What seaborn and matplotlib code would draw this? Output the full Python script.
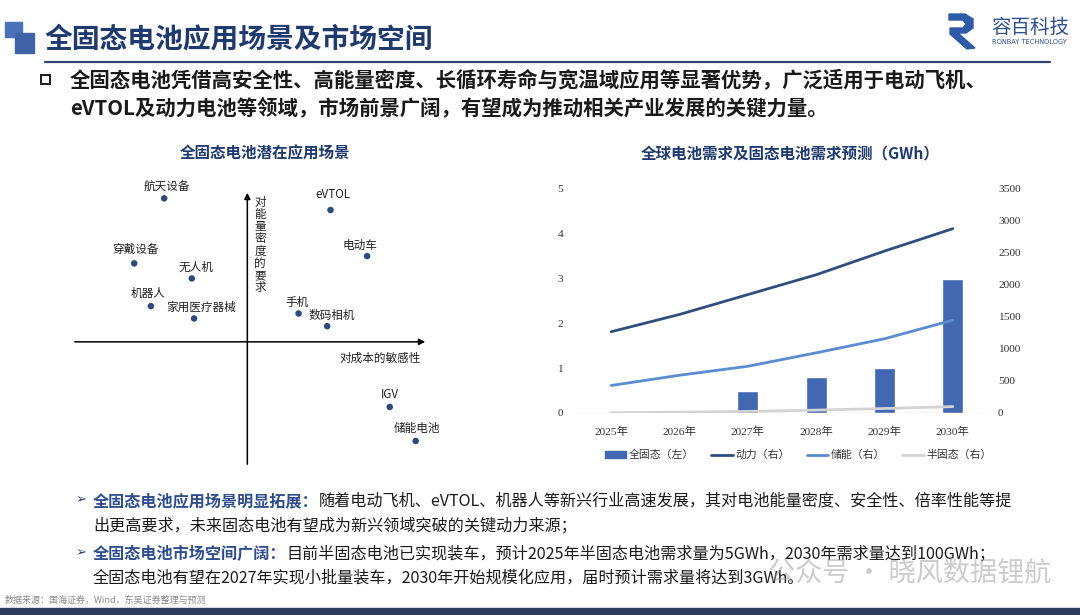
import numpy as np
import matplotlib
matplotlib.use("Agg")
import matplotlib.pyplot as plt
from matplotlib.patches import Rectangle, Polygon, Patch
from matplotlib.lines import Line2D
import seaborn as sns

# ---- data: demand forecast (GWh) ----
years = ["2025年", "2026年", "2027年", "2028年", "2029年", "2030年"]
all_solid = [0, 0, 0.5, 0.8, 1.0, 3.0]            # left axis
power = [1270, 1540, 1850, 2160, 2530, 2880]       # right axis
storage = [430, 590, 730, 940, 1160, 1450]         # right axis
semi_solid = [5, 12, 25, 45, 70, 100]              # right axis

# ---- data: application scenarios ----
scenes = ["航天设备", "穿戴设备", "无人机", "机器人", "家用医疗器械",
          "eVTOL", "电动车", "手机", "数码相机", "IGV", "储能电池"]
cost_sens = [-2.5, -3.4, -1.67, -2.9, -1.6, 2.5, 3.6, 1.54, 2.4, 4.28, 5.06]
energy_req = [4.3, 2.35, 1.9, 1.07, 0.7, 3.95, 2.57, 0.85, 0.47, -1.95, -2.97]
label_offsets = [(2, 8), (1, 10), (3, 8), (-2, 9), (5, 8),
                 (2, 11), (-5, 8), (-1, 8), (3, 8), (0, 9), (1, 9)]

sns.set_theme(style="white")
CJK = ["Noto Sans CJK SC", "DejaVu Sans"]
SERIF = ["Liberation Serif", "Noto Sans CJK SC"]
plt.rcParams["font.family"] = CJK

NAVY = "#1F3A6E"
BAR = "#4168B0"
POWER = "#2F4E7E"
STORE = "#5B8BD0"
SEMI = "#D3D3D3"

fig = plt.figure(figsize=(10.8, 6.15), dpi=100)
fig.patch.set_facecolor("white")

# background layer in pixel coordinates
bg = fig.add_axes([0, 0, 1, 1])
bg.set_xlim(0, 1080)
bg.set_ylim(615, 0)
bg.axis("off")

# header
bg.add_patch(Rectangle((5, 22), 17, 15, color="#4A72B8"))
bg.add_patch(Rectangle((15, 33), 19, 20, color="#3F62A8"))
bg.text(45, 40, "全固态电池应用场景及市场空间", fontsize=20, fontweight="bold",
        color=NAVY, va="center", ha="left")
bg.plot([45, 1050], [62, 62], color="#2E4470", lw=1.6)
bg.add_patch(Polygon([(949, 14), (965, 14), (973, 19), (973, 28), (966, 33),
                      (958, 33), (975, 48), (967, 49), (950, 34), (950, 28),
                      (963, 28), (966, 24), (963, 20), (949, 20)],
                     closed=True, color="#2F5AA8"))
bg.text(1030, 27, "容百科技", fontsize=14, color="#2F4E8E", ha="center", va="center")
bg.text(1029, 42, "RONBAY TECHNOLOGY", fontsize=4.8, color="#2F4E8E",
        ha="center", va="center", family=["DejaVu Sans"])

# intro bullet
bg.add_patch(Rectangle((41, 75), 9, 9, fill=False, edgecolor="#1a1a1a", lw=1.4))
bg.text(70, 80, "全固态电池凭借高安全性、高能量密度、长循环寿命与宽温域应用等显著优势，广泛适用于电动飞机、",
        fontsize=14.7, fontweight="bold", color="#1a1a1a", va="center")
bg.text(70, 108, "eVTOL及动力电池等领域，市场前景广阔，有望成为推动相关产业发展的关键力量。",
        fontsize=14.7, fontweight="bold", color="#1a1a1a", va="center")


def mixed_line(x, y, head, rest, size=11.6):
    t = bg.text(x, y, head, fontsize=size, fontweight="bold", color="#2E4E8E",
                va="bottom", ha="left")
    bg.annotate(rest, xy=(1, 0), xycoords=t, fontsize=size, color="#1a1a1a",
                va="bottom", ha="left")


bg.text(76, 500, "➢", fontsize=9.5, color="#2E4470", va="center", family=["DejaVu Sans"])
mixed_line(93, 509, "全固态电池应用场景明显拓展：",
           "随着电动飞机、eVTOL、机器人等新兴行业高速发展，其对电池能量密度、安全性、倍率性能等提")
bg.text(93, 526, "出更高要求，未来固态电池有望成为新兴领域突破的关键动力来源；",
        fontsize=11.6, color="#1a1a1a", va="center")
bg.text(76, 553, "➢", fontsize=9.5, color="#2E4470", va="center", family=["DejaVu Sans"])
mixed_line(93, 562, "全固态电池市场空间广阔：",
           "目前半固态电池已实现装车，预计2025年半固态电池需求量为5GWh，2030年需求量达到100GWh；")
bg.text(93, 578, "全固态电池有望在2027年实现小批量装车，2030年开始规模化应用，届时预计需求量将达到3GWh。",
        fontsize=11.6, color="#1a1a1a", va="center")
bg.text(5, 600, "数据来源：国海证券，Wind，东吴证券整理与预测", fontsize=6.5,
        color="#8a8a8a", va="center")
bg.text(768, 573, "公众号 · 晓风数据锂航", fontsize=19.5, color="#9a9a9a",
        alpha=0.5, va="center")
bg.add_patch(Rectangle((0, 608), 1080, 7, color="#2E3A5C"))

# chart titles
bg.text(265, 153, "全固态电池潜在应用场景", fontsize=11.2, fontweight="bold",
        color=NAVY, ha="center", va="center")
bg.text(790, 153, "全球电池需求及固态电池需求预测（GWh）", fontsize=11.2,
        fontweight="bold", color=NAVY, ha="center", va="center")

# ---- left: scenario quadrant ----
ax1 = fig.add_axes([72 / 1080, 1 - 467 / 615, 356 / 1080, 277 / 615])
ax1.patch.set_alpha(0)
sns.scatterplot(x=cost_sens, y=energy_req, ax=ax1, color="#2B4A7E", s=22,
                edgecolor="none", zorder=3)
xmin, xmax, ymin, ymax = -5.27, 5.43, -3.75, 4.55
ax1.set_xlim(xmin, xmax)
ax1.set_ylim(ymin, ymax)
ax1.annotate("", xy=(xmax, 0), xytext=(xmin, 0),
             arrowprops=dict(arrowstyle="-|>", color="black", lw=1.1, mutation_scale=9))
ax1.annotate("", xy=(0, ymax), xytext=(0, ymin),
             arrowprops=dict(arrowstyle="-|>", color="black", lw=1.1, mutation_scale=9))
for name, x, y, off in zip(scenes, cost_sens, energy_req, label_offsets):
    ax1.annotate(name, (x, y), xytext=off, textcoords="offset points",
                 ha="center", va="center", fontsize=8.4, color="#222222")
ax1.text(0.38, 2.9, "\n".join("对能量密度的要求"), fontsize=8.4, color="#222222",
         ha="center", va="center", linespacing=0.92)
ax1.text(4.0, -0.5, "对成本的敏感性", fontsize=8.4, color="#222222",
         ha="center", va="center")
ax1.set_xticks([])
ax1.set_yticks([])
sns.despine(ax=ax1, left=True, bottom=True)

# ---- right: demand forecast ----
ax2 = fig.add_axes([577 / 1080, 1 - 413 / 615, 410 / 1080, 224 / 615])
ax2.patch.set_alpha(0)
sns.barplot(x=years, y=all_solid, color=BAR, width=0.31, saturation=1, ax=ax2, zorder=2)
ax2.set_ylim(0, 5)
ax2.set_yticks(range(0, 6))
ax2.axhline(0, color="#D9D9D9", lw=1.0, zorder=1)
ax3 = ax2.twinx()
xpos = np.arange(len(years))
sns.lineplot(x=xpos, y=power, ax=ax3, color=POWER, lw=2.0)
sns.lineplot(x=xpos, y=storage, ax=ax3, color=STORE, lw=2.0)
sns.lineplot(x=xpos, y=semi_solid, ax=ax3, color=SEMI, lw=2.0)
ax3.set_ylim(0, 3500)
ax3.set_yticks(range(0, 3501, 500))
ax2.set_xlim(-0.5, 5.5)
for a in (ax2, ax3):
    a.set_xlabel("")
    a.set_ylabel("")
    for s in a.spines.values():
        s.set_visible(False)
    a.grid(False)
ax2.tick_params(axis="both", length=0, pad=10, labelsize=8.2, labelcolor="#333333")
ax3.tick_params(axis="y", length=0, pad=8, labelsize=8.2, labelcolor="#333333")
for lab in ax2.get_xticklabels() + ax2.get_yticklabels() + ax3.get_yticklabels():
    lab.set_family(SERIF)

handles = [Patch(color=BAR),
           Line2D([], [], color=POWER, lw=2),
           Line2D([], [], color=STORE, lw=2),
           Line2D([], [], color=SEMI, lw=2)]
fig.legend(handles, ["全固态（左）", "动力（右）", "储能（右）", "半固态（右）"],
           loc="center", bbox_to_anchor=(798 / 1080, 1 - 455 / 615), ncol=4,
           frameon=False, fontsize=7.8, handlelength=2.0, handleheight=0.55,
           columnspacing=1.6, handletextpad=0.2, labelcolor="#333333")

fig.savefig("out.png", dpi=100)
